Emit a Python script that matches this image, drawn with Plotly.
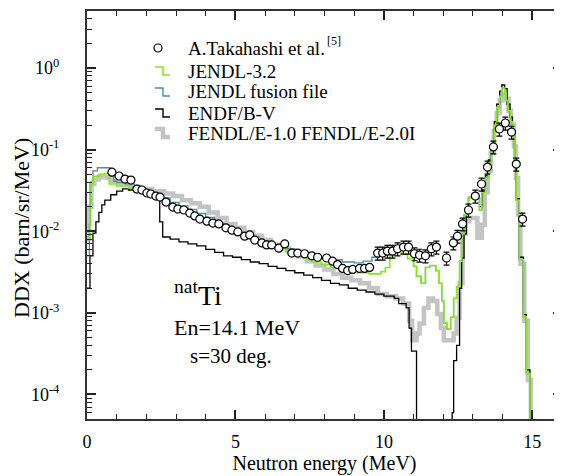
import plotly.graph_objects as go

# ---------------- data ----------------
# Experimental points: A.Takahashi et al.
exp_e = [0.84, 1.08, 1.28, 1.48, 1.68, 1.85, 2.02, 2.15, 2.32, 2.46, 2.66, 2.89, 3.06, 3.26,
         3.46, 3.63, 3.80, 4.04, 4.24, 4.44, 4.68, 4.88, 5.08, 5.31, 5.48, 5.65, 5.89, 6.05,
         6.22, 6.46, 6.66, 6.90, 7.10, 7.33, 7.57, 7.77, 8.07, 8.27, 8.44, 8.61, 8.78, 8.95,
         9.18, 9.35, 9.52, 9.79, 9.96, 10.12, 10.29, 10.46, 10.66, 10.83, 11.03, 11.20, 11.40,
         11.60, 11.77, 12.11, 12.34, 12.48, 12.65, 12.85, 13.08, 13.29, 13.49, 13.69, 13.89,
         14.09, 14.30, 14.46, 14.67]
exp_v = [0.053, 0.0475, 0.0436, 0.0424, 0.0329, 0.0320, 0.0294, 0.0286, 0.0270, 0.0262, 0.0228,
         0.0198, 0.0187, 0.0182, 0.0167, 0.0154, 0.0141, 0.0133, 0.0126, 0.0123, 0.0110, 0.0103,
         0.0098, 0.0087, 0.0090, 0.0078, 0.0072, 0.0068, 0.0068, 0.0062, 0.0070, 0.0054, 0.0054,
         0.0053, 0.0050, 0.0048, 0.0047, 0.0043, 0.0039, 0.0035, 0.0033, 0.0034, 0.0035, 0.0035,
         0.0036, 0.0054, 0.0054, 0.0057, 0.0057, 0.0061, 0.0064, 0.0064, 0.0053, 0.0051, 0.0050,
         0.0061, 0.0064, 0.0047, 0.0072, 0.0087, 0.0123, 0.0182, 0.0270, 0.0379, 0.0612, 0.108,
         0.179, 0.212, 0.164, 0.0666, 0.0141]
exp_err_pct = [6] * 45 + [18] * 26

# JENDL-3.2 (histogram: left bin edge, value)
j32_e = [0.0, 0.1, 0.2, 0.4, 0.6, 0.75, 1.0, 1.4, 1.6, 1.8, 2.0, 2.2, 2.4, 2.6, 2.8, 3.0, 3.2,
         3.4, 3.6, 3.8, 4.0, 4.2, 4.4, 4.6, 4.8, 5.0, 5.2, 5.5, 5.8, 6.1, 6.4, 6.7, 7.0, 7.3,
         7.6, 7.9, 8.2, 8.5, 8.8, 9.1, 9.5, 9.9, 10.05, 10.2, 10.35, 10.6, 10.8, 11.0, 11.1,
         11.25, 11.4, 11.55, 11.75, 11.85, 11.95, 12.02, 12.12, 12.25, 12.35, 12.45, 12.55,
         12.62, 12.70, 12.78, 12.85, 13.22, 13.30, 13.42, 13.52, 13.62, 13.72, 13.80, 13.90,
         13.97, 14.07, 14.12, 14.18, 14.26, 14.33, 14.40, 14.46, 14.56, 14.70, 14.80, 14.92, 16.0]
j32_v = [0.008, 0.038, 0.047, 0.050, 0.051, 0.038, 0.036, 0.034, 0.032, 0.030, 0.028, 0.026,
         0.025, 0.023, 0.021, 0.020, 0.019, 0.017, 0.016, 0.0145, 0.0135, 0.0125, 0.0115, 0.0105,
         0.0100, 0.0094, 0.0087, 0.0080, 0.0072, 0.0066, 0.0061, 0.0056, 0.0050, 0.0046, 0.0042,
         0.0039, 0.0036, 0.0034, 0.0032, 0.0031, 0.0030, 0.0032, 0.0036, 0.0050, 0.0055, 0.0052,
         0.0046, 0.0037, 0.0028, 0.0023, 0.0036, 0.0038, 0.0033, 0.0023, 0.0014, 0.00075,
         0.00063, 0.00088, 0.0015, 0.0021, 0.0043, 0.0093, 0.016, 0.019, 0.0256, 0.018, 0.030,
         0.045, 0.070, 0.105, 0.20, 0.33, 0.45, 0.57, 0.50, 0.40, 0.30, 0.22, 0.155, 0.067,
         0.024, 0.0045, 0.0009, 0.00018, 1e-7, 1e-7]

# JENDL fusion file
fus_e = [0.0, 0.08, 0.12, 0.2, 0.35, 0.78, 0.9, 1.0, 1.3, 1.6, 1.9, 2.2, 2.5, 2.8, 3.1, 3.4,
         3.7, 4.0, 4.3, 4.6, 5.0, 5.4, 5.8, 6.2, 6.6, 7.0, 7.4, 7.8, 8.2, 8.6, 9.0, 9.3, 9.6,
         9.85, 10.1, 10.25, 10.7, 10.9, 11.0, 11.1, 11.25, 11.4, 11.55, 11.75, 11.85, 11.95,
         12.02, 12.12, 12.25, 12.35, 12.45, 12.55, 12.62, 12.70, 12.78, 12.85, 13.22, 13.30,
         13.42, 13.52, 13.62, 13.72, 13.80, 13.90, 13.97, 14.07, 14.12, 14.18, 14.26, 14.33,
         14.40, 14.46, 14.56, 14.70, 14.80, 14.92, 16.0]
fus_v = [0.005, 0.012, 0.040, 0.055, 0.060, 0.048, 0.041, 0.0395, 0.038, 0.035, 0.031, 0.028,
         0.0256, 0.0225, 0.0205, 0.0185, 0.0165, 0.0148, 0.0128, 0.0105, 0.0095, 0.0085, 0.0076,
         0.0068, 0.0061, 0.0056, 0.0052, 0.0048, 0.0045, 0.0042, 0.0041, 0.0043, 0.0048, 0.0053,
         0.0058, 0.0066, 0.0060, 0.0050, 0.0037, 0.0028, 0.0023, 0.0036, 0.0038, 0.0033, 0.0023,
         0.0014, 0.00075, 0.00063, 0.00088, 0.0015, 0.0021, 0.0043, 0.0093, 0.016, 0.019, 0.0256,
         0.018, 0.030, 0.045, 0.070, 0.105, 0.20, 0.33, 0.45, 0.57, 0.50, 0.40, 0.30, 0.22, 0.155,
         0.067, 0.024, 0.0045, 0.0009, 0.00018, 1e-7, 1e-7]

# ENDF/B-V
endf_e = [0.0, 0.1, 0.2, 0.3, 0.4, 0.5, 0.6, 0.8, 1.0, 1.2, 1.4, 1.6, 1.8, 2.0, 2.2, 2.45,
          2.55, 2.8, 3.1, 3.4, 3.7, 4.0, 4.3, 4.6, 4.9, 5.2, 5.5, 5.8, 6.1, 6.4, 6.7, 7.0, 7.3,
          7.6, 7.9, 8.2, 8.5, 8.8, 9.1, 9.4, 9.7, 10.0, 10.35, 10.5, 10.75, 10.85, 10.93, 11.1,
          12.3, 12.35, 12.45, 12.55, 12.62, 12.70, 12.78, 12.85, 13.22, 13.32, 13.42, 13.52,
          13.62, 13.72, 13.80, 13.90, 13.97, 14.07, 14.15, 14.25, 14.33, 14.40, 14.46, 14.56,
          14.70, 14.80, 14.92, 16.0]
endf_v = [0.002, 0.005, 0.0095, 0.013, 0.017, 0.021, 0.024, 0.028, 0.031, 0.033, 0.032, 0.030,
          0.029, 0.028, 0.027, 0.013, 0.0085, 0.0080, 0.0074, 0.0070, 0.0066, 0.0060, 0.0055,
          0.0050, 0.0048, 0.0045, 0.0042, 0.0040, 0.0037, 0.0035, 0.0033, 0.0031, 0.0029, 0.0027,
          0.0025, 0.0023, 0.0022, 0.0020, 0.0019, 0.0018, 0.0017, 0.0016, 0.0015, 0.0013,
          0.00115, 0.00065, 0.00034, 1e-7, 6e-5, 0.00026, 0.0004, 0.0020, 0.0047, 0.0093, 0.0163,
          0.026, 0.020, 0.032, 0.048, 0.075, 0.11, 0.22, 0.36, 0.52, 0.62, 0.56, 0.36, 0.25, 0.16,
          0.07, 0.025, 0.0048, 0.00095, 0.0002, 1e-7, 1e-7]

# FENDL/E-1.0, FENDL/E-2.0
fendl_e = [0.0, 0.05, 0.15, 0.25, 0.4, 0.7, 0.85, 1.1, 1.45, 1.8, 2.2, 2.6, 2.9, 3.2, 3.5, 3.8,
           4.1, 4.4, 4.7, 5.0, 5.3, 5.6, 5.9, 6.2, 6.5, 6.8, 7.1, 7.4, 7.7, 8.0, 8.3, 8.6, 8.9,
           9.2, 9.5, 9.8, 10.1, 10.4, 10.65, 10.85, 10.95, 11.1, 11.2, 11.35, 11.5, 11.65, 11.8,
           11.92, 12.02, 12.35, 12.45, 12.55, 12.65, 12.75, 12.88, 13.15, 13.30, 13.40, 13.50,
           13.60, 13.70, 13.80, 13.90, 14.00, 14.10, 14.20, 14.28, 14.38, 14.45, 14.52, 14.60,
           14.73, 14.85, 14.95, 16.0]
fendl_v = [0.008, 0.020, 0.038, 0.043, 0.046, 0.045, 0.041, 0.038, 0.035, 0.033, 0.031, 0.029,
           0.027, 0.024, 0.022, 0.020, 0.017, 0.0145, 0.0123, 0.0110, 0.0098, 0.0088, 0.0078,
           0.0069, 0.0062, 0.0056, 0.0049, 0.0043, 0.0038, 0.0034, 0.0030, 0.0027, 0.0025,
           0.0023, 0.0020, 0.0017, 0.0016, 0.0015, 0.0013, 0.0008, 0.00046, 0.00056, 0.00074,
           0.00115, 0.0015, 0.0014, 0.00097, 0.00065, 0.00046, 0.00056, 0.00087, 0.0023, 0.0093,
           0.0133, 0.0145, 0.0083, 0.012, 0.030, 0.055, 0.09, 0.17, 0.28, 0.40, 0.48, 0.42, 0.30,
           0.20, 0.11, 0.045, 0.016, 0.0040, 0.0008, 0.00015, 1e-7, 1e-7]

x_tick_vals = [0, 5, 10, 15]
y_tick_vals = [1e-4, 1e-3, 1e-2, 1e-1, 1e0]
y_tick_text = ["10<sup>-4</sup>", "10<sup>-3</sup>", "10<sup>-2</sup>", "10<sup>-1</sup>", "10<sup>0</sup>"]
y_minor_vals = [m * d for d in [1e-5, 1e-4, 1e-3, 1e-2, 1e-1, 1e0] for m in range(2, 10)]

legend_names = ["A.Takahashi et al.", "JENDL-3.2", "JENDL fusion file", "ENDF/B-V",
                "FENDL/E-1.0 FENDL/E-2.0I"]

FONT = "Liberation Serif"
C_GREEN, C_TEAL, C_BLACK, C_GRAY = "#84e81a", "#4e8e94", "#000000", "#c4c4c4"

fig = go.Figure()
fig.add_trace(go.Scatter(x=fendl_e, y=fendl_v, mode="lines", name=legend_names[4],
                         line=dict(color=C_GRAY, width=4.5, shape="hv")))
fig.add_trace(go.Scatter(x=endf_e, y=endf_v, mode="lines", name=legend_names[3],
                         line=dict(color=C_BLACK, width=1.3, shape="hv")))
fig.add_trace(go.Scatter(x=fus_e, y=fus_v, mode="lines", name=legend_names[2],
                         line=dict(color=C_TEAL, width=1.3, shape="hv")))
fig.add_trace(go.Scatter(x=j32_e, y=j32_v, mode="lines", name=legend_names[1],
                         line=dict(color=C_GREEN, width=1.6, shape="hv")))
fig.add_trace(go.Scatter(
    x=exp_e, y=exp_v, mode="markers", name=legend_names[0],
    marker=dict(symbol="circle", size=8, color="white", line=dict(color="black", width=1.2)),
    error_y=dict(type="data", array=[v * p / 100 for v, p in zip(exp_v, exp_err_pct)],
                 color="black", thickness=1.2, width=3)))

# ---- hand-drawn legend (step-shaped glyphs like the original) ----
# plot area in page pixels: x 87..562, y 11..419
def px(x):
    return (x - 87) / 475.0


def py(y):
    return (419 - y) / 408.0


row_y = [48, 71, 92, 113, 133]
line_styles = [None, (C_GREEN, 1.6), (C_TEAL, 1.4), (C_BLACK, 1.4), (C_GRAY, 4.5)]
shapes = []
annotations = []
for i, name in enumerate(legend_names):
    yc = row_y[i]
    annotations.append(dict(text=name, xref="paper", yref="paper", x=px(186), y=py(yc),
                            xanchor="left", yanchor="middle", showarrow=False,
                            font=dict(family=FONT, size=19, color="black")))
    if line_styles[i] is None:
        shapes.append(dict(type="circle", xref="paper", yref="paper",
                           x0=px(154), x1=px(162), y0=py(yc + 4), y1=py(yc - 4),
                           line=dict(color="black", width=1.2), fillcolor="white"))
    else:
        col, w = line_styles[i]
        path = "M %.4f,%.4f L %.4f,%.4f L %.4f,%.4f L %.4f,%.4f" % (
            px(155), py(yc - 4), px(163), py(yc - 4), px(163), py(yc + 4), px(170), py(yc + 4))
        shapes.append(dict(type="path", xref="paper", yref="paper", path=path,
                           line=dict(color=col, width=w)))
annotations.append(dict(text="[5]", xref="paper", yref="paper", x=px(325), y=py(41),
                        xanchor="left", yanchor="middle", showarrow=False,
                        font=dict(family=FONT, size=12, color="black")))

annotations += [
    dict(text="<sup>nat</sup>Ti", xref="paper", yref="paper", x=0.179, y=0.307,
         xanchor="left", yanchor="middle", showarrow=False, font=dict(family=FONT, size=28)),
    dict(text="En=14.1 MeV", xref="paper", yref="paper", x=0.178, y=0.225,
         xanchor="left", yanchor="middle", showarrow=False, font=dict(family=FONT, size=22)),
    dict(text="s=30 deg.", xref="paper", yref="paper", x=0.213, y=0.154,
         xanchor="left", yanchor="middle", showarrow=False, font=dict(family=FONT, size=21)),
    dict(text="DDX (barn/sr/MeV)", xref="paper", yref="paper", x=px(21), y=py(228),
         xanchor="center", yanchor="middle", textangle=-90, showarrow=False,
         font=dict(family=FONT, size=22)),
]

# the page body adds an 8 px offset, so the figure is 8 px smaller than the window
fig.update_layout(
    width=554, height=468, autosize=False,
    margin=dict(l=79, r=0, t=3, b=57, autoexpand=False),
    plot_bgcolor="white", paper_bgcolor="white",
    font=dict(family=FONT, color="black", size=18),
    showlegend=False,
    shapes=shapes,
    annotations=annotations,
)

fig.update_xaxes(
    range=[0, 16], tickmode="array", tickvals=x_tick_vals, automargin=False,
    ticks="inside", ticklen=9, tickwidth=1.5, tickcolor="#222",
    minor=dict(dtick=1, ticks="inside", ticklen=5, tickwidth=1.2, tickcolor="#222"),
    showline=True, linewidth=2, linecolor="#333", mirror="ticks",
    showgrid=False, zeroline=False, ticklabelstandoff=5,
    tickfont=dict(family=FONT, size=18),
    title=dict(text="Neutron energy (MeV)", font=dict(family=FONT, size=20), standoff=2),
)
fig.update_yaxes(
    type="log", range=[-4.30103, 0.69897], tickmode="array", tickvals=y_tick_vals,
    ticktext=y_tick_text, automargin=False,
    ticks="inside", ticklen=9, tickwidth=1.5, tickcolor="#222",
    minor=dict(tickmode="array", tickvals=y_minor_vals, ticks="inside", ticklen=5,
               tickwidth=1.2, tickcolor="#222"),
    showline=True, linewidth=2, linecolor="#333", mirror="ticks",
    showgrid=False, zeroline=False, ticklabelstandoff=22,
    tickfont=dict(family=FONT, size=18),
)

fig.write_html("out.html")
